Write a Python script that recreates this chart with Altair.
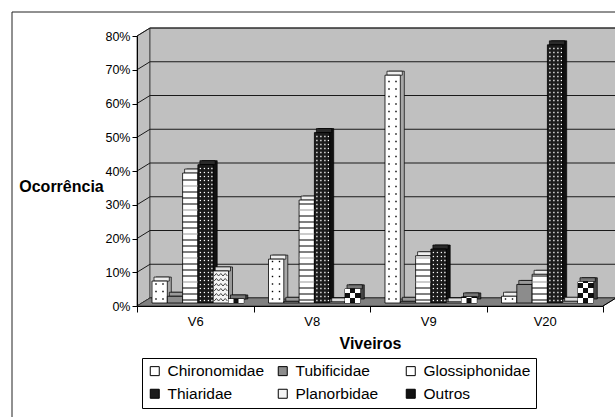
import json
import math

import altair as alt
import pandas as pd

# ---- data -----------------------------------------------------------------
viveiros = ["V6", "V8", "V9", "V20"]
familias = ["Chironomidae", "Tubificidae", "Glossiphonidae",
            "Thiaridae", "Planorbidae", "Outros"]

# occurrence (fraction) of each family, one value per viveiro
chironomidae = [0.065, 0.13, 0.675, 0.02]
tubificidae = [0.02, 0.005, 0.005, 0.055]
glossiphonidae = [0.385, 0.305, 0.14, 0.085]
thiaridae = [0.41, 0.505, 0.16, 0.765]
planorbidae = [0.095, 0.003, 0.003, 0.005]
outros = [0.012, 0.042, 0.018, 0.063]

y_ticks = [0.0, 0.1, 0.2, 0.3, 0.4, 0.5, 0.6, 0.7, 0.8]

series = dict(zip(familias, [chironomidae, tubificidae, glossiphonidae,
                             thiaridae, planorbidae, outros]))

# ---- styling --------------------------------------------------------------
FONT = "Liberation Sans"
front_colors = ["#ffffff", "#8c8c8c", "#ffffff", "#1c1c1c", "#f4f4f4", "#111111"]
side_colors = ["#a8a8a8", "#6e6e6e", "#a8a8a8", "#101010", "#9a9a9a", "#444444"]
top_colors = ["#eeeeee", "#9a9a9a", "#eeeeee", "#2a2a2a", "#dddddd", "#777777"]

# ---- geometry of the pseudo-3D plot ---------------------------------------
W, H = 466, 270            # front plane of the plot area, pixels
XMAX, YMAX = 4.0, 0.8
GX = XMAX / W              # x units per pixel
GY = YMAX / H              # y units per pixel
WALL_DX, WALL_DY = 13, 8   # depth of walls / floor, pixels
BAR_DX, BAR_DY = 4, 4      # depth of each bar, pixels
GROUP_OFF = 15             # gap from category start to first bar, pixels
BAR_W = 15.3               # bar width, pixels
BASE = 3                   # bars stand slightly behind the front edge

xs = alt.Scale(domain=[0, XMAX], nice=False, zero=False)
ys = alt.Scale(domain=[0, YMAX], nice=False, zero=False)

# ---- derived tables ---------------------------------------------------------
bar_rows, gloss_rows, chiro_rows, thia_rows, outros_rows, zig_rows = [], [], [], [], [], []
for ci, viv in enumerate(viveiros):
    for si, fam in enumerate(familias):
        val = series[fam][ci]
        x0 = ci + (GROUP_OFF + si * BAR_W) * GX
        x1 = x0 + BAR_W * GX
        bar_rows.append(dict(viveiro=viv, familia=fam, valor=val, x0=x0, x1=x1, zero=0.0))
        h_px = val / GY
        if fam == "Glossiphonidae":
            k = 0
            while 3 + 6 * k < h_px - 1:
                gloss_rows.append(dict(x0=x0, x1=x1, lvl=(3 + 6 * k) * GY, k=k))
                k += 1
        elif fam == "Chironomidae":
            k = 0
            while 4 + 7.5 * k < h_px - 2:
                for off in (4, 11):
                    chiro_rows.append(dict(px=x0 + off * GX, py=(4 + 7.5 * k) * GY))
                k += 1
        elif fam == "Thiaridae":
            k = 0
            while 2.5 + 4 * k < h_px - 1.5:
                for off in (2.5, 6.5, 10.5, 14.0):
                    thia_rows.append(dict(px=x0 + off * GX, py=(2.5 + 4 * k) * GY))
                k += 1
        elif fam == "Planorbidae" and h_px > 6:
            # zigzag hatching, one polyline per row
            k = 0
            while 2 + 5 * k < h_px - 3:
                for j in range(7):
                    zig_rows.append(dict(
                        row=f"{viv}-{k}", order=j,
                        px=x0 + (1 + j * 2.2) * GX,
                        py=(2 + 5 * k + (2.5 if j % 2 else 0)) * GY))
                k += 1
        elif fam == "Outros":
            for r in range(int(math.ceil(h_px / 5))):
                for c in range(3):
                    if (r + c) % 2 == 0:
                        right = BAR_W if c == 2 else (c + 1) * 5
                        outros_rows.append(dict(
                            cx0=x0 + c * 5 * GX, cx1=x0 + right * GX,
                            ry0=r * 5 * GY, ry1=min((r + 1) * 5, h_px) * GY))

bars = pd.DataFrame(bar_rows)
gloss = pd.DataFrame(gloss_rows)
chiro = pd.DataFrame(chiro_rows)
thia = pd.DataFrame(thia_rows)
checker = pd.DataFrame(outros_rows)
zigzag = pd.DataFrame(zig_rows)

dx, dy = WALL_DX * GX, WALL_DY * GY
left_wall = pd.DataFrame(dict(x=[0, dx], y=[YMAX, YMAX + dy], y2=[0, dy]))
floor = pd.DataFrame(dict(x=[0, dx, XMAX, XMAX + dx], y=[0, dy, dy, dy], y2=[0, 0, 0, dy]))
back_wall = pd.DataFrame(dict(x=[dx], x2=[XMAX + dx], y=[dy], y2=[YMAX + dy]))
grid = pd.DataFrame(dict(
    x=[dx] * len(y_ticks), x2=[XMAX + dx] * len(y_ticks),
    y=[t + dy for t in y_ticks]))
diag = pd.DataFrame(dict(
    x=[0] * len(y_ticks), x2=[dx] * len(y_ticks),
    y=y_ticks, y2=[t + dy for t in y_ticks]))
floor_end = pd.DataFrame(dict(x=[XMAX], x2=[XMAX + dx], y=[0], y2=[dy]))

# ---- axes & legend ------------------------------------------------------------
label_expr = json.dumps(viveiros + [""]) + "[datum.value]"
x_axis = alt.Axis(
    values=[0, 1, 2, 3, 4], labelExpr=label_expr, labelOffset=W / 8,
    labelFlush=False, labelOverlap=False, grid=False,
    tickSize=6, tickColor="black", domainColor="black",
    labelFont=FONT, labelFontSize=13, labelColor="black", labelPadding=3,
    title="Viveiros", titleFont=FONT, titleFontSize=16, titleFontWeight="bold",
    titleColor="black", titleBaseline="middle", titleY=37, zindex=1)
y_axis = alt.Axis(
    values=y_ticks, format=".0%", grid=False, labelFlush=False,
    tickSize=5, tickColor="black", domainColor="black",
    labelFont=FONT, labelFontSize=12.5, labelColor="black", labelPadding=2,
    title="Ocorrência", titleFont=FONT, titleFontSize=16, titleFontWeight="bold",
    titleColor="black", titleAngle=0, titleAlign="center", titleBaseline="middle",
    titleX=-76, titleY=150, zindex=1)
legend = alt.Legend(
    title=None, orient="none", legendX=5, legendY=322, columns=3,
    direction="horizontal",
    gridAlign="all", columnPadding=0, rowPadding=6,
    symbolType="square", symbolSize=81, symbolStrokeColor="black",
    symbolStrokeWidth=1, labelFont=FONT, labelFontSize=15.5, labelColor="black",
    labelOffset=5, padding=5, strokeColor="black", fillColor="white")


def X(field):
    return alt.X(field, scale=xs, axis=x_axis)


def Y(field):
    return alt.Y(field, scale=ys, axis=y_axis)


# ---- layers -------------------------------------------------------------------
frame = alt.Chart(pd.DataFrame({"a": [0]})).mark_rect(
    fill="white", stroke="#222", strokeWidth=1).encode(
    x=alt.value(-125), x2=alt.value(W + 40), y=alt.value(-24), y2=alt.value(H + 140))

wall_side = alt.Chart(left_wall).mark_area(
    fill="#c0c0c0", stroke="#333", strokeWidth=0.8).encode(
    x=X("x:Q"), y=Y("y:Q"), y2="y2:Q")

wall_back = alt.Chart(back_wall).mark_rect(
    fill="#c0c0c0", stroke="#333", strokeWidth=0.8).encode(
    x=X("x:Q"), x2="x2:Q", y=Y("y:Q"), y2="y2:Q")

grid_back = alt.Chart(grid).mark_rule(color="#1a1a1a", strokeWidth=1).encode(
    x=X("x:Q"), x2="x2:Q", y=Y("y:Q"))

grid_diag = alt.Chart(diag).mark_rule(color="#1a1a1a", strokeWidth=1).encode(
    x=X("x:Q"), x2="x2:Q", y=Y("y:Q"), y2="y2:Q")

floor_area = alt.Chart(floor).mark_area(
    fill="#808080", stroke="#333", strokeWidth=0.8).encode(
    x=X("x:Q"), y=Y("y:Q"), y2="y2:Q")

floor_edge = alt.Chart(floor_end).mark_rule(color="black", strokeWidth=1).encode(
    x=X("x:Q"), x2="x2:Q", y=Y("y:Q"), y2="y2:Q")

bar_side = alt.Chart(bars).mark_rect(
    stroke="black", strokeWidth=0.7,
    xOffset=BAR_DX, x2Offset=BAR_DX, yOffset=-BASE - BAR_DY, y2Offset=-BASE - BAR_DY).encode(
    x=X("x0:Q"), x2="x1:Q", y=Y("zero:Q"), y2="valor:Q",
    fill=alt.Fill("familia:N", scale=alt.Scale(domain=familias, range=side_colors), legend=None))

bar_top = alt.Chart(bars).mark_rect(
    stroke="black", strokeWidth=0.7,
    xOffset=BAR_DX / 2, x2Offset=BAR_DX / 2, yOffset=-BASE - BAR_DY, y2Offset=-BASE).encode(
    x=X("x0:Q"), x2="x1:Q", y=Y("valor:Q"), y2="valor:Q",
    fill=alt.Fill("familia:N", scale=alt.Scale(domain=familias, range=top_colors), legend=None))

bar_front = alt.Chart(bars).mark_rect(
    stroke="black", strokeWidth=0.8, yOffset=-BASE, y2Offset=-BASE).encode(
    x=X("x0:Q"), x2="x1:Q", y=Y("zero:Q"), y2="valor:Q",
    fill=alt.Fill("familia:N", scale=alt.Scale(domain=familias, range=front_colors),
                  legend=legend))

gloss_lines = alt.Chart(gloss).mark_rule(strokeWidth=1, yOffset=-BASE).encode(
    x=X("x0:Q"), x2="x1:Q", y=Y("lvl:Q"),
    color=alt.condition("datum.k % 4 == 3", alt.value("#999999"), alt.value("#000000")))

chiro_dots = alt.Chart(chiro).mark_square(size=2, color="black", opacity=1, yOffset=-BASE).encode(
    x=X("px:Q"), y=Y("py:Q"))

thia_dots = alt.Chart(thia).mark_square(size=1.6, color="white", opacity=1, yOffset=-BASE).encode(
    x=X("px:Q"), y=Y("py:Q"))

zig_lines = alt.Chart(zigzag).mark_line(color="#333333", strokeWidth=0.9, yOffset=-BASE).encode(
    x=X("px:Q"), y=Y("py:Q"), detail="row:N", order="order:Q")

outros_cells = alt.Chart(checker).mark_rect(fill="white", yOffset=-BASE, y2Offset=-BASE).encode(
    x=X("cx0:Q"), x2="cx1:Q", y=Y("ry0:Q"), y2="ry1:Q")

chart = alt.layer(
    frame, wall_side, wall_back, grid_back, grid_diag, floor_area, floor_edge,
    bar_side, bar_top, bar_front, gloss_lines, chiro_dots, thia_dots, zig_lines,
    outros_cells,
).resolve_scale(fill="independent").properties(
    width=W, height=H,
    autosize=alt.AutoSizeParams(type="none"),
    padding={"left": 137, "top": 36, "right": 12, "bottom": 111},
    background="white",
).configure(font=FONT).configure_view(stroke="transparent")

chart.save("out.html", embed_options={"renderer": "svg", "actions": False})
